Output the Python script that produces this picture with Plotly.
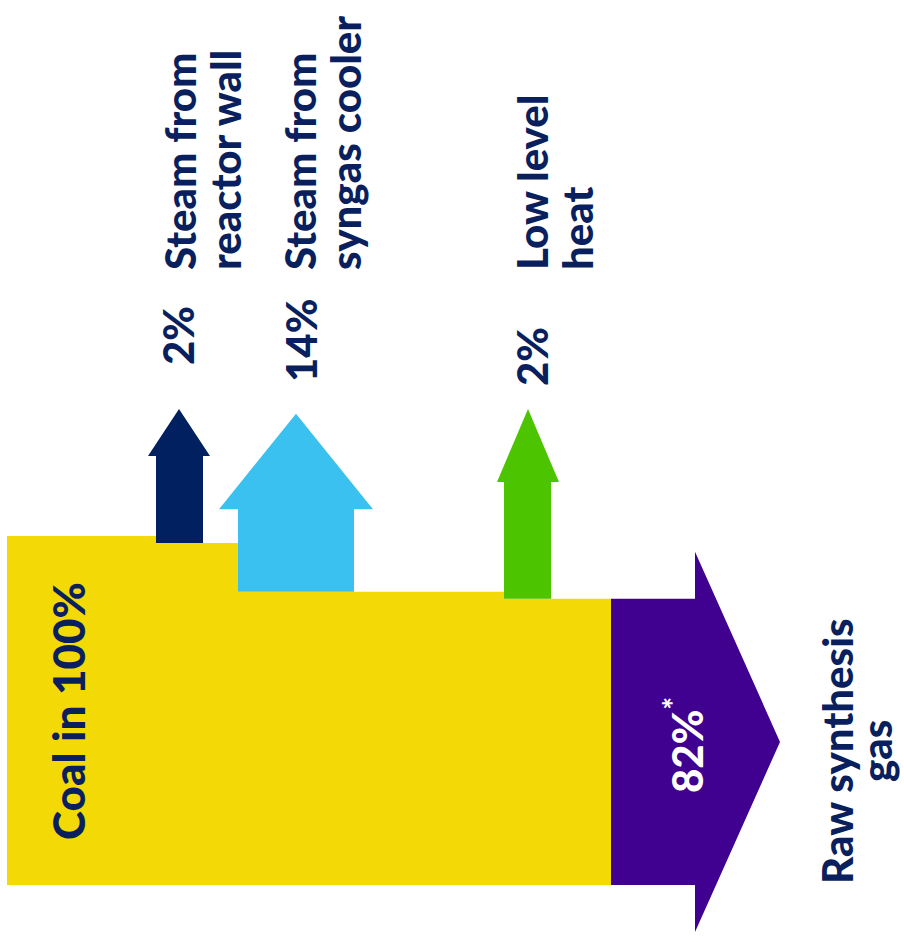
import plotly.graph_objects as go

# ---- data -------------------------------------------------------------
coal_in = 100                       # % of coal energy entering
loss_names = ["Steam from reactor wall", "Steam from syngas cooler", "Low level heat"]
loss_values = [2, 14, 2]            # % leaving as each by-product stream
raw_gas = coal_in - sum(loss_values)  # 82 % left in the raw synthesis gas

# ---- styling / geometry ----------------------------------------------
W, H = 904, 942
BASE_PX = 885          # pixel row of the 0 % line
PX_PER_UNIT = 3.49     # vertical pixels per percent

YELLOW = "#F3D906"
NAVY = "#00205F"
CYAN = "#3AC1F0"
GREEN = "#4CC400"
PURPLE = "#400090"
TEXT = "#0A1F5E"

FONT = "Lato"

x_left, x_right = 7, 611
# stems of the outgoing arrows: (stem x0, stem x1, head x0, head x1, head base, tip)
arrow_geo = [
    (156, 203, 148, 210, 122.9, 136.4),
    (238, 354, 219, 373, 107.7, 135.0),
    (504, 551, 497, 559, 115.5, 136.4),
]
arrow_colors = [NAVY, CYAN, GREEN]

# output arrow
out_stem_end, out_tip_x, out_head_extra = 695, 780, 13.5

fig = go.Figure()


def poly(xs, ys, color):
    fig.add_trace(go.Scatter(
        x=xs + [xs[0]], y=ys + [ys[0]], mode="lines", fill="toself",
        fillcolor=color, line=dict(width=0, color=color),
        hoverinfo="skip", showlegend=False))


# main yellow body, stepping down at every loss
xs, ys = [x_left, x_left], [0, coal_in]
level = coal_in
for (sx0, _, _, _, _, _), v in zip(arrow_geo, loss_values):
    xs += [sx0, sx0]
    ys += [level, level - v]
    level -= v
xs += [x_right, x_right]
ys += [level, 0]
poly(xs, ys, YELLOW)

# outgoing loss arrows
level = coal_in
for (sx0, sx1, hx0, hx1, hb, tip), v, c in zip(arrow_geo, loss_values, arrow_colors):
    level -= v
    poly([sx0, sx0, hx0, (hx0 + hx1) / 2, hx1, sx1, sx1],
         [level, hb, hb, tip, hb, hb, level], c)

# raw synthesis gas arrow
poly([x_right, x_right, out_stem_end, out_stem_end, out_tip_x, out_stem_end, out_stem_end],
     [0, raw_gas, raw_gas, raw_gas + out_head_extra, raw_gas / 2, -out_head_extra, 0], PURPLE)


# ---- labels ----------------------------------------------------------
def label(text, px, py, size=42, color=TEXT, yanchor="middle"):
    fig.add_annotation(
        text=text, x=px / W, y=1 - py / H, xref="paper", yref="paper",
        textangle=-90, showarrow=False, xanchor="center", yanchor=yanchor,
        font=dict(family=FONT, size=size, color=color, weight=900))


label("Coal in 100%", 68, 711, size=44)
label(f"{raw_gas}%<sup>*</sup>", 684, 745, color="white")

label(f"{loss_values[0]}%", 178, 336)
label("Steam from", 180, 272, yanchor="bottom")
label("reactor wall", 225, 272, yanchor="bottom")

label(f"{loss_values[1]}%", 301, 341)
label("Steam from", 300, 272, yanchor="bottom")
label("syngas cooler", 345, 272, yanchor="bottom")

label(f"{loss_values[2]}%", 532, 357)
label("Low level", 532, 272, yanchor="bottom")
label("heat", 577, 272, yanchor="bottom")

label("Raw synthesis", 837, 751)
label("gas", 876, 751)

y_top = BASE_PX / PX_PER_UNIT
y_bot = -(H - BASE_PX) / PX_PER_UNIT
fig.update_layout(
    width=W, height=H, margin=dict(l=0, r=0, t=0, b=0),
    paper_bgcolor="white", plot_bgcolor="white",
    xaxis=dict(range=[0, W], visible=False, fixedrange=True),
    yaxis=dict(range=[y_bot, y_top], visible=False, fixedrange=True),
    showlegend=False,
)

fig.write_html("out.html")
